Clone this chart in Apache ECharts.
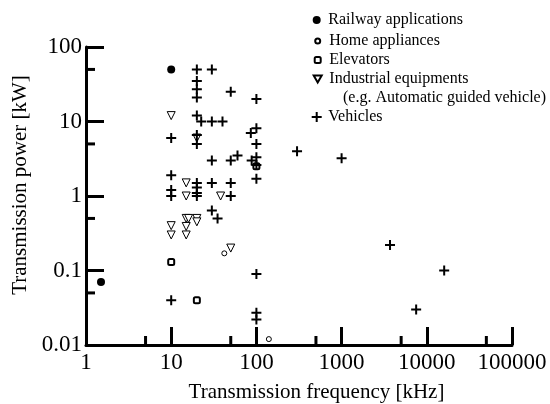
<!DOCTYPE html>
<html><head><meta charset="utf-8">
<script src="https://cdn.jsdelivr.net/npm/echarts@6/dist/echarts.min.js"></script>
<style>html,body{margin:0;padding:0;background:#fff}#c{width:550px;height:404px}</style>
</head><body><div id="c"></div>
<script>
// ---- data (frequency kHz, power kW) ----
const seriesNames = ['Railway applications', 'Home appliances', 'Elevators', 'Industrial equipments', 'Vehicles'];
const legendSubLine = '(e.g. Automatic guided vehicle)';
const railway = [[10, 50], [1.5, 0.07]];
const home = [[42, 0.17], [140, 0.012]];
const elevators = [[10, 0.13], [20, 0.04], [100, 2.5]];
const industrial = [
  [10, 12], [20, 6], [15, 1.5], [15, 1.0], [38, 1.0], [15, 0.5], [16, 0.5],
  [20, 0.5], [20, 0.45], [15, 0.39], [10, 0.4], [10, 0.3], [15, 0.3], [50, 0.2]
];
const vehicles = [
  [10, 6], [10, 1.9], [10, 1.2], [10, 1.0], [10, 0.04],
  [20, 50], [20, 35], [20, 27], [20, 21], [20, 12], [20, 6.6], [20, 5],
  [20, 1.5], [20, 1.3], [20, 1.1], [20, 1.0],
  [22.5, 10], [30, 10], [40, 10],
  [30, 50], [30, 3], [30, 1.5], [30, 0.64], [35, 0.5],
  [50, 25], [50, 3], [60, 3.5], [50, 1.5], [50, 1.0],
  [86, 7], [88, 3], [100, 20], [100, 8.1], [100, 5], [100, 3.3], [100, 2.6],
  [100, 1.7], [100, 0.09], [100, 0.027], [100, 0.022],
  [300, 4], [1000, 3.2], [3700, 0.22], [7500, 0.03], [16000, 0.1]
];
const xRange = [1, 100000];
const yRange = [0.01, 100];
const xMinorTicks = [5, 50, 500, 5000, 50000];
const yMinorTicks = [0.05, 0.5, 5, 50];
const xTitle = 'Transmission frequency [kHz]';
const yTitle = 'Transmission power [kW]';

// ---- styles ----
const FONT = 'Liberation Serif';
const plusPath = 'path://M4,0H6V4H10V6H6V10H4V6H0V4H4Z';
const downTriPath = 'path://M0,0L10,0L5,8.66Z';
const symbols = [
  { symbol: 'circle', size: 8, rotate: 0, icon: 'circle', itemStyle: { color: '#000', opacity: 1 } },
  { symbol: 'circle', size: 5, rotate: 0, icon: 'circle', itemStyle: { color: '#fff', borderColor: '#000', borderWidth: 1, opacity: 1 } },
  { symbol: 'roundRect', size: 6, rotate: 0, icon: 'roundRect', itemStyle: { color: '#fff', borderColor: '#000', borderWidth: 2, opacity: 1 } },
  { symbol: 'triangle', size: 8, rotate: 180, icon: downTriPath, itemStyle: { color: '#fff', borderColor: '#000', borderWidth: 1, opacity: 1 } },
  { symbol: plusPath, size: 10, rotate: 0, icon: plusPath, itemStyle: { color: '#000', opacity: 1 } }
];
const datasets = [railway, home, elevators, industrial, vehicles];
const legendRows = [20, 41, 60, 79, 117];

const fmt = v => String(+Number(v).toPrecision(6));

const series = datasets.map((d, i) => ({
  name: seriesNames[i],
  type: 'scatter',
  data: d,
  symbol: symbols[i].symbol,
  symbolSize: symbols[i].size,
  symbolRotate: symbols[i].rotate,
  itemStyle: symbols[i].itemStyle,
  z: 3,
  emphasis: { disabled: true }
}));

series.push({
  type: 'custom', silent: true, z: 4, clip: false,
  data: xMinorTicks.map(v => [v, yRange[0]]),
  renderItem: (params, api) => {
    const p = api.coord([api.value(0), api.value(1)]);
    return { type: 'line', shape: { x1: p[0], y1: p[1], x2: p[0], y2: p[1] - 9 }, style: { stroke: '#000', lineWidth: 3 } };
  }
});
series.push({
  type: 'custom', silent: true, z: 4, clip: false,
  data: yMinorTicks.map(v => [xRange[0], v]),
  renderItem: (params, api) => {
    const p = api.coord([api.value(0), api.value(1)]);
    return { type: 'line', shape: { x1: p[0], y1: p[1], x2: p[0] + 9, y2: p[1] }, style: { stroke: '#000', lineWidth: 3 } };
  }
});

const legends = seriesNames.map((n, i) => {
  const s = symbols[i].size;
  return {
    data: [{ name: n, icon: symbols[i].icon }],
    orient: 'horizontal',
    left: 316.7 - s / 2,
    top: legendRows[i] - 8,
    padding: 0,
    itemWidth: s,
    itemHeight: s,
    itemStyle: { opacity: 1 },
    selectedMode: false,
    textStyle: { fontFamily: FONT, fontSize: 16, color: '#000', lineHeight: 16, padding: [0, 0, 0, 6.6 - s / 2] }
  };
});

const chart = echarts.init(document.getElementById('c'), null, { renderer: 'canvas' });
chart.setOption({
  animation: false,
  backgroundColor: '#fff',
  grid: { left: 86, right: 38, top: 47, bottom: 59, outerBoundsMode: 'none', containLabel: false },
  xAxis: {
    type: 'log', logBase: 10, min: xRange[0], max: xRange[1],
    axisLine: { lineStyle: { color: '#000', width: 3 } },
    axisTick: { inside: true, length: 18, lineStyle: { color: '#000', width: 3 } },
    axisLabel: { fontFamily: FONT, fontSize: 23, color: '#000', margin: 6, formatter: fmt },
    splitLine: { show: false },
    name: xTitle, nameLocation: 'middle', nameGap: 37,
    nameTextStyle: { fontFamily: FONT, fontSize: 21, color: '#000', padding: [0, 0, 0, 35] }
  },
  yAxis: {
    type: 'log', logBase: 10, min: yRange[0], max: yRange[1],
    axisLine: { lineStyle: { color: '#000', width: 3 } },
    axisTick: { inside: true, length: 18, lineStyle: { color: '#000', width: 3 } },
    axisLabel: { fontFamily: FONT, fontSize: 23, color: '#000', margin: 4, formatter: fmt },
    splitLine: { show: false },
    name: yTitle, nameLocation: 'middle', nameGap: 53,
    nameTextStyle: { fontFamily: FONT, fontSize: 21, color: '#000', padding: [0, 0, 0, 22] }
  },
  legend: legends,
  graphic: [{
    type: 'text', left: 343, top: 90,
    style: { text: legendSubLine, fontFamily: FONT, fontSize: 16, fill: '#000' }
  }],
  series: series
});
</script></body></html>
